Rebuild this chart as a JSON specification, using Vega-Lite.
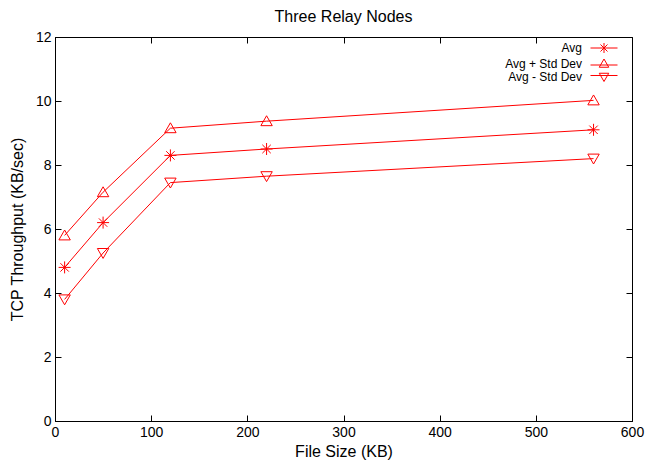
{
  "$schema": "https://vega.github.io/schema/vega-lite/v6.json",
  "width": 577,
  "height": 384,
  "autosize": "none",
  "padding": {"left": 55, "top": 37, "right": 22, "bottom": 43},
  "config": {
    "font": "Liberation Sans",
    "view": {"stroke": "black", "strokeWidth": 1},
    "axis": {"labelFontSize": 14, "titleFontSize": 16, "titleFontWeight": "normal", "labelColor": "black", "titleColor": "black", "domainColor": "black", "tickColor": "black", "grid": false}
  },
  "title": {"text": "Three Relay Nodes", "fontSize": 16, "fontWeight": "normal", "offset": 5, "color": "black"},
  "data": {"values": [
    {"size": 10, "value": 4.8, "series": "Avg"},
    {"size": 50, "value": 6.2, "series": "Avg"},
    {"size": 120, "value": 8.3, "series": "Avg"},
    {"size": 220, "value": 8.5, "series": "Avg"},
    {"size": 560, "value": 9.1, "series": "Avg"},
    {"size": 10, "value": 5.8, "series": "Avg + Std Dev"},
    {"size": 50, "value": 7.15, "series": "Avg + Std Dev"},
    {"size": 120, "value": 9.15, "series": "Avg + Std Dev"},
    {"size": 220, "value": 9.37, "series": "Avg + Std Dev"},
    {"size": 560, "value": 10.02, "series": "Avg + Std Dev"},
    {"size": 10, "value": 3.8, "series": "Avg - Std Dev"},
    {"size": 50, "value": 5.25, "series": "Avg - Std Dev"},
    {"size": 120, "value": 7.45, "series": "Avg - Std Dev"},
    {"size": 220, "value": 7.65, "series": "Avg - Std Dev"},
    {"size": 560, "value": 8.2, "series": "Avg - Std Dev"}
  ]},
  "resolve": {"axis": {"x": "independent", "y": "independent"}, "scale": {"shape": "independent"}},
  "layer": [
    {
      "mark": {"type": "line", "color": "#ff0000", "strokeWidth": 1},
      "encoding": {
        "x": {"field": "size", "type": "quantitative", "scale": {"domain": [0, 600], "nice": false},
              "axis": {"title": "File Size (KB)", "values": [0,100,200,300,400,500,600], "tickSize": -6, "labelPadding": 10, "titlePadding": 4, "labelFlush": false}},
        "y": {"field": "value", "type": "quantitative", "scale": {"domain": [0, 12], "nice": false},
              "axis": {"title": "TCP Throughput (KB/sec)", "values": [0,2,4,6,8,10,12], "tickSize": -6, "labelPadding": 10, "titlePadding": 10, "labelFlush": false}},
        "detail": {"field": "series"}
      }
    },
    {
      "mark": {"type": "point", "color": "#ff0000", "filled": false, "strokeWidth": 1, "size": 144, "opacity": 1},
      "encoding": {
        "x": {"field": "size", "type": "quantitative", "axis": null},
        "y": {"field": "value", "type": "quantitative", "axis": null},
        "shape": {"field": "series", "type": "nominal",
          "scale": {"domain": ["Avg", "Avg + Std Dev", "Avg - Std Dev"],
                    "range": ["M-1,0H1M0,-1V1M-0.7,-0.7L0.7,0.7M-0.7,0.7L0.7,-0.7", "M0,-0.9L0.95,0.75L-0.95,0.75Z", "M0,0.9L0.95,-0.75L-0.95,-0.75Z"]},
          "legend": null
        }
      }
    },
    {
      "mark": {"type": "point", "color": "#ff0000", "filled": false, "strokeWidth": 1, "size": 144, "opacity": 0},
      "encoding": {
        "x": {"field": "size", "type": "quantitative", "axis": {"orient": "top", "labels": false, "title": null, "domain": false, "values": [0,100,200,300,400,500,600], "tickSize": -6}},
        "y": {"field": "value", "type": "quantitative", "axis": {"orient": "right", "labels": false, "title": null, "domain": false, "values": [0,2,4,6,8,10,12], "tickSize": -6}},
        "shape": {"field": "series", "type": "nominal",
          "scale": {"domain": ["Avg", "Avg + Std Dev", "Avg - Std Dev"],
                    "range": ["M-2.7,0H2.7M0,-1V1M-0.7,-0.7L0.7,0.7M-0.7,0.7L0.7,-0.7", "M-2.7,0.3H2.7M0,-0.9L0.95,0.75L-0.95,0.75Z", "M-2.7,-0.3H2.7M0,0.9L0.95,-0.75L-0.95,-0.75Z"]},
          "legend": {
            "title": null, "orient": "none", "legendX": 543, "legendY": 5, "padding": 0, "labelFontSize": 12, "labelColor": "black",
            "labelAlign": "right", "labelOffset": -28, "rowPadding": 1.5, "symbolStrokeColor": "#ff0000", "symbolStrokeWidth": 1, "symbolOpacity": 1, "symbolFillColor": "transparent"
          }
        }
      }
    }
  ]
}
